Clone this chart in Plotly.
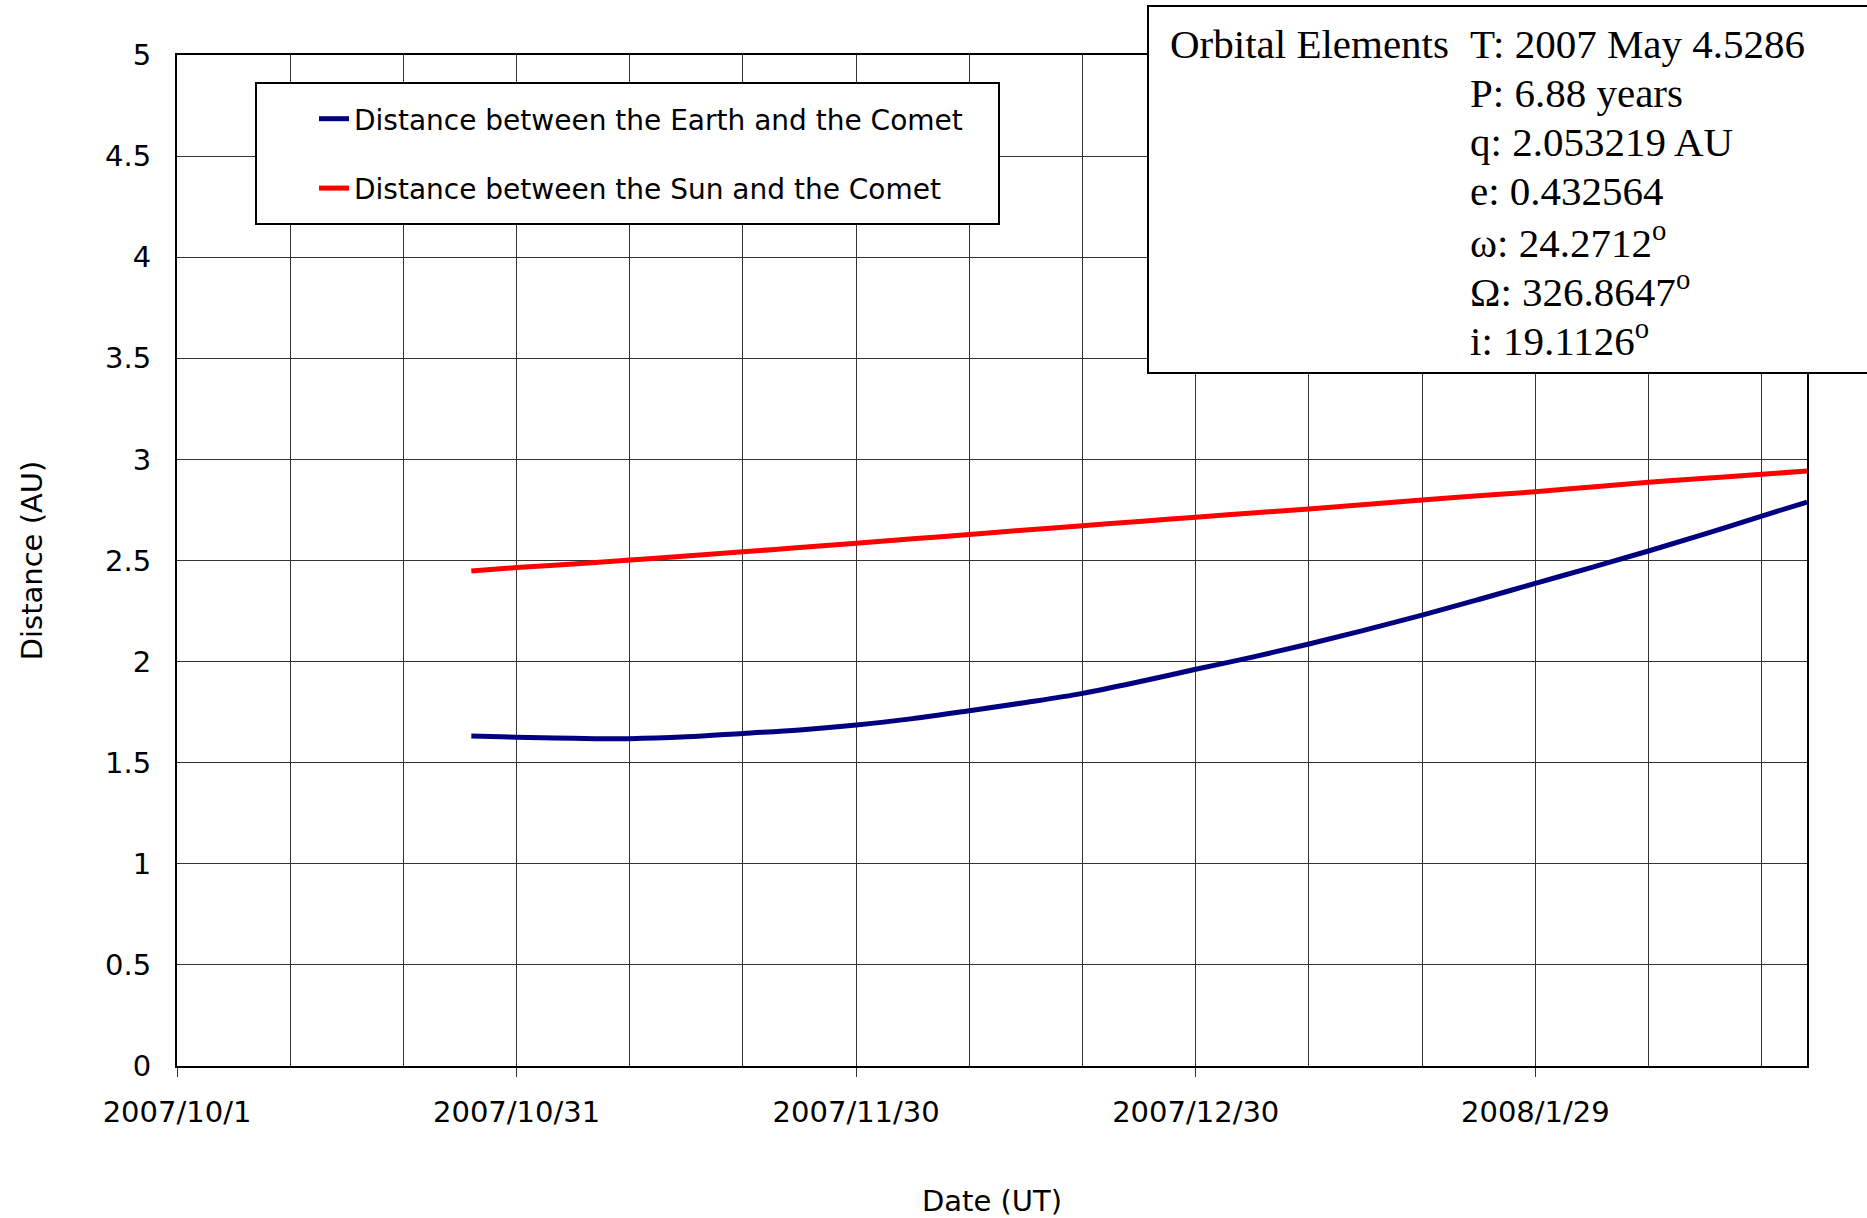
import plotly.graph_objects as go

dates = ["2007-10-27", "2007-10-31", "2007-11-05", "2007-11-10", "2007-11-15", "2007-11-20",
         "2007-11-25", "2007-11-30", "2007-12-05", "2007-12-10", "2007-12-15", "2007-12-20",
         "2007-12-25", "2007-12-30", "2008-01-04", "2008-01-09", "2008-01-14", "2008-01-19",
         "2008-01-24", "2008-01-29", "2008-02-03", "2008-02-08", "2008-02-13", "2008-02-18",
         "2008-02-22"]
earth_comet = [1.632, 1.626, 1.621, 1.619, 1.628, 1.645, 1.662, 1.686, 1.718, 1.757, 1.798,
               1.843, 1.900, 1.962, 2.022, 2.087, 2.157, 2.230, 2.307, 2.387, 2.466, 2.547,
               2.632, 2.720, 2.789]
sun_comet = [2.448, 2.465, 2.483, 2.502, 2.522, 2.543, 2.564, 2.585, 2.607, 2.629, 2.651,
             2.672, 2.693, 2.714, 2.735, 2.755, 2.777, 2.799, 2.820, 2.840, 2.864, 2.887,
             2.907, 2.926, 2.943]
elements_title = "Orbital Elements"
elements = ["T: 2007 May 4.5286", "P: 6.88 years", "q: 2.053219 AU", "e: 0.432564",
            "ω: 24.2712<sup>o</sup>", "Ω: 326.8647<sup>o</sup>", "i: 19.1126<sup>o</sup>"]

W, H = 1867, 1218
L, T = 177, 55
pw, ph = 1630, 1011
R = W - L - pw
B = H - T - ph

def px(x):
    return (x - L) / pw

def py(y):
    return (T + ph - y) / ph

gfont = "DejaVu Sans, sans-serif"
sfont = "Liberation Serif, Times New Roman, serif"
DAY = 86400000
GRID = "#333333"

fig = go.Figure()
fig.add_trace(go.Scatter(x=dates, y=earth_comet, mode="lines", name="Distance between the Earth and the Comet",
                         line=dict(color="#000080", width=5, shape="spline"), legendgroup="a"))
fig.add_trace(go.Scatter(x=dates, y=sun_comet, mode="lines", name="Distance between the Sun and the Comet",
                         line=dict(color="#FF0000", width=5, shape="spline"), legendgroup="b"))

fig.update_xaxes(type="date", range=["2007-10-01", "2008-02-22"], tick0="2007-10-01", dtick=30 * DAY,
                 tickformat="%Y/%-m/%-d", ticks="outside", ticklen=9, tickcolor=GRID, tickwidth=1,
                 showgrid=True, gridcolor=GRID, gridwidth=1, automargin=False,
                 minor=dict(dtick=10 * DAY, tick0="2007-10-01", showgrid=True, gridcolor=GRID, gridwidth=1),
                 showline=True, linecolor="black", linewidth=2, mirror=True,
                 tickfont=dict(family=gfont, size=29, color="black"), ticklabelstandoff=10,
                 title=dict(text="Date (UT)", font=dict(family=gfont, size=29, color="black"), standoff=81))
fig.update_yaxes(range=[0, 5], dtick=0.5, showgrid=True, gridcolor=GRID, gridwidth=1, zeroline=False,
                 showline=True, linecolor="black", linewidth=2, mirror=True, ticks="", automargin=False,
                 tickfont=dict(family=gfont, size=29, color="black"), ticklabelstandoff=18,
                 title=dict(text="Distance (AU)", font=dict(family=gfont, size=29, color="black"), standoff=54))

shapes = [
    dict(type="rect", xref="paper", yref="paper", x0=px(256), x1=px(999), y0=py(224), y1=py(83),
         fillcolor="white", line=dict(color="black", width=2), layer="above"),
    dict(type="rect", xref="paper", yref="paper", x0=px(1148), x1=px(1880), y0=py(373), y1=py(6),
         fillcolor="white", line=dict(width=0), layer="above"),
    dict(type="path", xref="paper", yref="paper",
         path=f"M {px(1880)},{py(6)} L {px(1148)},{py(6)} L {px(1148)},{py(373)} L {px(1880)},{py(373)}",
         line=dict(color="black", width=2), layer="above"),
]

annotations = [dict(text=elements_title, xref="paper", yref="paper", x=px(1168), y=py(44),
                    xanchor="left", yanchor="middle", showarrow=False,
                    font=dict(family=sfont, size=41, color="black"))]
for i, t in enumerate(elements):
    annotations.append(dict(text=t, xref="paper", yref="paper", x=px(1468), y=py(44 + 49 * i),
                            xanchor="left", yanchor="middle", showarrow=False,
                            font=dict(family=sfont, size=41, color="black")))

fig.update_layout(width=W, height=H, margin=dict(l=L, r=R, t=T, b=B, autoexpand=False),
                  paper_bgcolor="white", plot_bgcolor="white",
                  shapes=shapes, annotations=annotations,
                  legend=dict(x=px(314), y=py(94), xanchor="left", yanchor="top", bgcolor="rgba(0,0,0,0)",
                              borderwidth=0, tracegroupgap=30,
                              font=dict(family=gfont, size=28, color="black")),
                  showlegend=True)

fig.write_html("out.html", config={"displayModeBar": False},
               post_script="document.body.style.margin='0px';document.body.style.overflow='hidden';")
